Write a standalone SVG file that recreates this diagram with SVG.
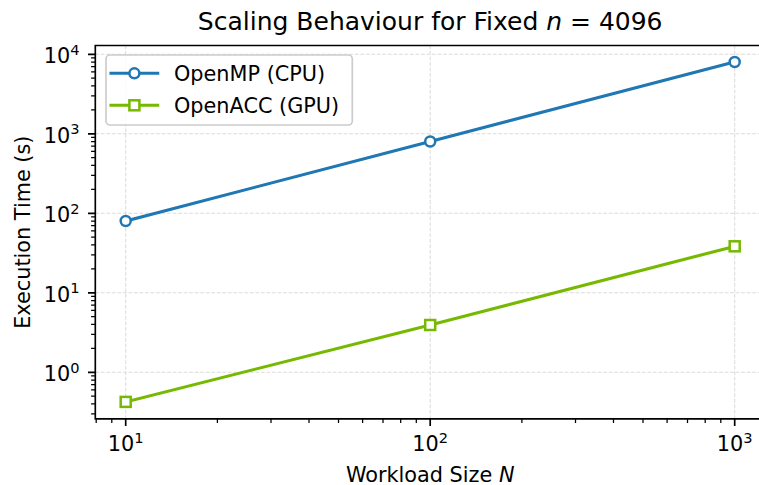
<svg xmlns="http://www.w3.org/2000/svg" width="759" height="485" viewBox="0 0 759 485">
<style>
text{font-family:"DejaVu Sans","Liberation Sans",sans-serif;fill:#000}
.tk{font-size:20.8px}
.sup{font-size:14.6px}
.grid{stroke:#dcdcdc;stroke-width:1.05;stroke-dasharray:3.85 1.67;fill:none}
.spine{stroke:#000;stroke-width:1.67;fill:none;stroke-linecap:square}
.major{stroke:#000;stroke-width:1.67;fill:none}
.minor{stroke:#000;stroke-width:1.25;fill:none}
.omp{stroke:#1f77b4;stroke-width:3.1;fill:none;stroke-linecap:square;stroke-linejoin:round}
.acc{stroke:#76b900;stroke-width:3.1;fill:none;stroke-linecap:square;stroke-linejoin:round}
.mo{stroke:#1f77b4;stroke-width:2.5;fill:#fff}
.ma{stroke:#76b900;stroke-width:2.5;fill:#fff}
</style>
<rect width="759" height="485" fill="#fff"/>
<g id="grid">
<path class="grid" d="M125.7 45.5V418.8M430.2 45.5V418.8M734.7 45.5V418.8M95.3 54.3H765M95.3 133.8H765M95.3 213.3H765M95.3 292.8H765M95.3 372.3H765"/>
</g>
<g id="connectors">
<polyline class="omp" points="125.7,221 430.2,141.5 734.7,62"/>
<polyline class="acc" points="125.7,401.9 430.2,325 734.7,246.3"/>
</g>
<g id="openmp-points">
<circle class="mo" cx="125.7" cy="221" r="5"/>
<circle class="mo" cx="430.2" cy="141.5" r="5"/>
<circle class="mo" cx="734.7" cy="62" r="5"/>
</g>
<g id="openacc-points">
<rect class="ma" x="120.7" y="396.9" width="10" height="10"/>
<rect class="ma" x="425.2" y="320" width="10" height="10"/>
<rect class="ma" x="729.7" y="241.3" width="10" height="10"/>
</g>
<g id="axes">
<path class="spine" d="M95.3 418.8V45.5H766M95.3 418.8H766"/>
<path class="major" d="M125.7 418.8v7.3M430.2 418.8v7.3M734.7 418.8v7.3M95.3 54.3h-7.3M95.3 133.8h-7.3M95.3 213.3h-7.3M95.3 292.8h-7.3M95.3 372.3h-7.3"/>
<path class="minor" d="M96.2 418.8v4.2M111.8 418.8v4.2M217.4 418.8v4.2M271 418.8v4.2M309 418.8v4.2M338.5 418.8v4.2M362.6 418.8v4.2M383 418.8v4.2M400.7 418.8v4.2M416.3 418.8v4.2M521.9 418.8v4.2M575.5 418.8v4.2M613.5 418.8v4.2M643 418.8v4.2M667.1 418.8v4.2M687.5 418.8v4.2M705.2 418.8v4.2M720.8 418.8v4.2
M95.3 413.9h-4.2M95.3 403.9h-4.2M95.3 396.2h-4.2M95.3 389.9h-4.2M95.3 384.6h-4.2M95.3 380h-4.2M95.3 375.9h-4.2
M95.3 348.4h-4.2M95.3 334.4h-4.2M95.3 324.4h-4.2M95.3 316.7h-4.2M95.3 310.4h-4.2M95.3 305.1h-4.2M95.3 300.5h-4.2M95.3 296.4h-4.2
M95.3 268.9h-4.2M95.3 254.9h-4.2M95.3 244.9h-4.2M95.3 237.2h-4.2M95.3 230.9h-4.2M95.3 225.6h-4.2M95.3 221h-4.2M95.3 216.9h-4.2
M95.3 189.4h-4.2M95.3 175.4h-4.2M95.3 165.4h-4.2M95.3 157.7h-4.2M95.3 151.4h-4.2M95.3 146.1h-4.2M95.3 141.5h-4.2M95.3 137.4h-4.2
M95.3 109.9h-4.2M95.3 95.9h-4.2M95.3 85.9h-4.2M95.3 78.2h-4.2M95.3 71.9h-4.2M95.3 66.6h-4.2M95.3 62h-4.2M95.3 57.9h-4.2"/>
<g class="tk" text-anchor="middle">
<text x="125.7" y="451">10<tspan class="sup" dy="-8.5">1</tspan></text>
<text x="430.2" y="451">10<tspan class="sup" dy="-8.5">2</tspan></text>
<text x="734.7" y="451">10<tspan class="sup" dy="-8.5">3</tspan></text>
</g>
<g class="tk" text-anchor="end">
<text x="79.5" y="381">10<tspan class="sup" dy="-8.5">0</tspan></text>
<text x="79.5" y="301.5">10<tspan class="sup" dy="-8.5">1</tspan></text>
<text x="79.5" y="222">10<tspan class="sup" dy="-8.5">2</tspan></text>
<text x="79.5" y="142.5">10<tspan class="sup" dy="-8.5">3</tspan></text>
<text x="79.5" y="63">10<tspan class="sup" dy="-8.5">4</tspan></text>
</g>
<text class="tk" x="430.2" y="481.5" text-anchor="middle">Workload Size <tspan font-style="italic">N</tspan></text>
<text class="tk" transform="translate(29.5,232.2) rotate(-90)" text-anchor="middle">Execution Time (s)</text>
</g>
<text id="title" x="430.2" y="29.5" font-size="25px" text-anchor="middle">Scaling Behaviour for Fixed <tspan font-style="italic">n</tspan> = 4096</text>
<g id="legend">
<rect x="106" y="55" width="246.3" height="70" rx="4" fill="#fff" fill-opacity="0.8" stroke="#cccccc" stroke-width="1.67"/>
<line class="omp" x1="111" y1="73.3" x2="157.7" y2="73.3"/>
<circle class="mo" cx="134.4" cy="73.3" r="5"/>
<text class="tk" x="174" y="80.8">OpenMP (CPU)</text>
<line class="acc" x1="111" y1="105.3" x2="157.7" y2="105.3"/>
<rect class="ma" x="129.4" y="100.3" width="10" height="10"/>
<text class="tk" x="174" y="112.8">OpenACC (GPU)</text>
</g>
</svg>
